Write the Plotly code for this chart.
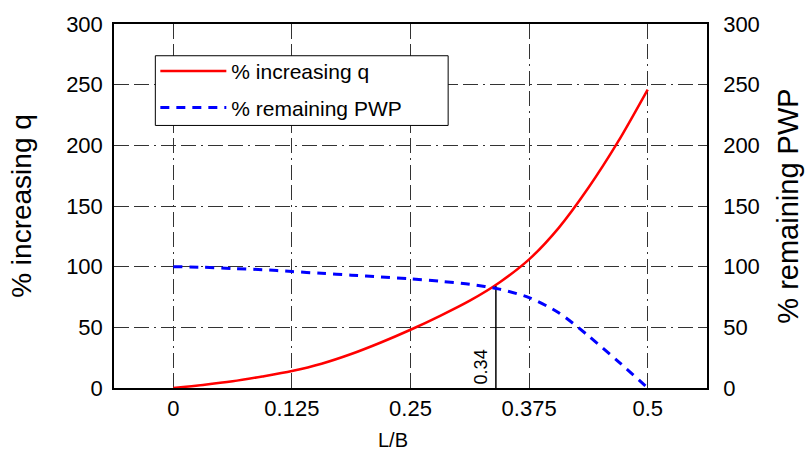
import plotly.graph_objects as go

# L/B ratio samples (steps of 1/32)
l_b = [0, 0.03125, 0.0625, 0.09375, 0.125, 0.15625, 0.1875, 0.21875, 0.25,
       0.28125, 0.3125, 0.34375, 0.375, 0.40625, 0.4375, 0.46875, 0.5]
# % increase in bearing capacity q
pct_increasing_q = [0, 2.5, 5.5, 9.5, 14, 20, 28, 37.5, 48,
                    59.5, 72, 87, 106, 132, 165, 203, 246]
# % remaining pore water pressure
pct_remaining_pwp = [100, 99.5, 98.5, 97.5, 96, 94.5, 93, 91.5, 90,
                     88, 85.5, 81.5, 74.5, 62, 43, 22, 0]

# crossing point of the two curves
cross_x = 0.34
cross_y = 84

x_ticks = [0, 0.125, 0.25, 0.375, 0.5]
x_tick_text = ["0", "0.125", "0.25", "0.375", "0.5"]
y_ticks = [0, 50, 100, 150, 200, 250, 300]

FONT = "Arial, Liberation Sans, sans-serif"
GRID_DASH = "15px,5px,15px,5px,2px,5px"

fig = go.Figure()

fig.add_trace(go.Scatter(
    x=l_b, y=pct_increasing_q, mode="lines", name="% increasing q",
    line=dict(color="#ff0000", width=2.5, shape="spline", smoothing=0.8),
    legendgroup="a",
))
fig.add_trace(go.Scatter(
    x=l_b, y=pct_remaining_pwp, mode="lines", name="% remaining PWP",
    line=dict(color="#0000ff", width=3, dash="9px,7px", shape="spline", smoothing=0.8),
    yaxis="y2", legendgroup="b",
))
fig.add_trace(go.Scatter(
    x=[cross_x, cross_x], y=[0, cross_y], mode="lines",
    line=dict(color="black", width=1.5), showlegend=False, hoverinfo="skip",
))

fig.add_annotation(
    x=cross_x, y=0, xref="x", yref="y", text=f"{cross_x:g}", showarrow=False,
    textangle=-90, xanchor="right", yanchor="bottom", xshift=-3, yshift=2,
    font=dict(family=FONT, size=18, color="black"),
)
fig.add_annotation(
    x=0.4697, y=-0.142, xref="paper", yref="paper", text="L/B", showarrow=False,
    xanchor="center", yanchor="middle",
    font=dict(family=FONT, size=20, color="black"),
)

# framed white panel behind the legend entries
fig.add_shape(
    type="rect", xref="paper", yref="paper",
    x0=0.0697, x1=0.5635, y0=0.7213, y1=0.9128,
    line=dict(color="black", width=1), fillcolor="white", layer="above",
)

axis_common = dict(
    showline=True, linecolor="black", linewidth=1.5, ticks="",
    tickfont=dict(family=FONT, size=22, color="black"),
    zeroline=False,
)

fig.update_layout(
    width=811, height=452,
    margin=dict(l=114, r=103, t=21, b=64),
    paper_bgcolor="white", plot_bgcolor="white",
    showlegend=True,
    legend=dict(
        x=0.0697, y=0.926, xanchor="left", yanchor="top",
        borderwidth=0, bgcolor="rgba(0,0,0,0)",
        font=dict(family=FONT, size=21, color="black"),
        traceorder="grouped", tracegroupgap=6, itemwidth=66,
    ),
    xaxis=dict(
        range=[-0.0625, 0.5625], tickvals=x_ticks, ticktext=x_tick_text,
        showgrid=True, gridcolor="#333333", gridwidth=1, griddash=GRID_DASH,
        mirror=True, ticklabelstandoff=0, **axis_common,
    ),
    yaxis=dict(
        range=[0, 300], tickvals=y_ticks,
        showgrid=True, gridcolor="#333333", gridwidth=1, griddash=GRID_DASH,
        title=dict(text="% increasing q", font=dict(family=FONT, size=28, color="black"), standoff=26),
        ticklabelstandoff=5, **axis_common,
    ),
    yaxis2=dict(
        range=[0, 300], tickvals=y_ticks, overlaying="y", side="right",
        showgrid=False,
        title=dict(text="% remaining PWP", font=dict(family=FONT, size=29, color="black"), standoff=19),
        ticklabelstandoff=10, **axis_common,
    ),
)

fig.write_html("out.html")
